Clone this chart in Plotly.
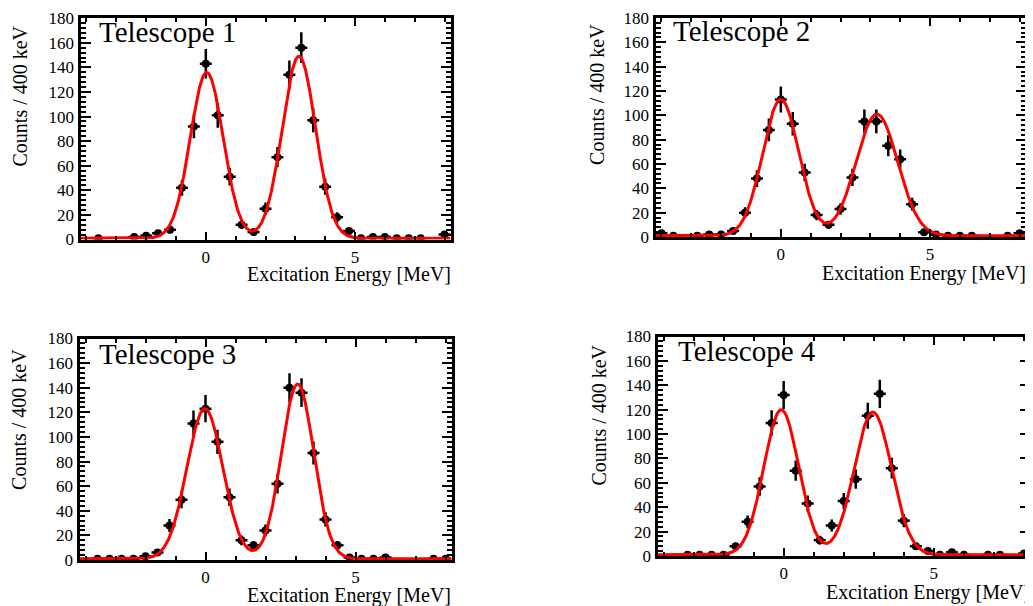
import numpy as np
import plotly.graph_objects as go

# ---------------- data ----------------
bin_centers = [-4.0, -3.6, -3.2, -2.8, -2.4, -2.0, -1.6, -1.2, -0.8, -0.4, 0.0,
               0.4, 0.8, 1.2, 1.6, 2.0, 2.4, 2.8, 3.2, 3.6, 4.0, 4.4, 4.8, 5.2,
               5.6, 6.0, 6.4, 6.8, 7.2, 7.6, 8.0]

counts_t1 = [None, 1, None, None, 2, 3, 5, 8, 42, 92, 143, 101, 51, 12, 6, 25, 67,
             134, 156, 97, 43, 18, 7, 1, 2, 2, 1, 1, 1, None, 4]
counts_t2 = [3, 1, None, 1, 2, 2, 5, 20, 48, 88, 113, 93, 53, 18, 10, 23, 49,
             95, 95, 75, 64, 27, 4, 2, 1, 1, 1, None, None, 1, 3]
counts_t3 = [None, 1, 1, 1, 1, 3, 6, 28, 49, 111, 123, 96, 51, 16, 12, 24, 62,
             140, 136, 87, 33, 12, 2, 1, 1, 2, None, None, None, 1, 1]
counts_t4 = [None, None, 1, 1, 1, 1, 8, 28, 57, 109, 132, 70, 43, 13, 25, 45, 63,
             115, 133, 72, 29, 8, 4, 1, 3, 1, None, 1, 1, None, 2]

# double-Gaussian fit parameters: [A1, mean1, sigma1, A2, mean2, sigma2, background]
fit_t1 = [135, 0.03, 0.55, 148, 3.12, 0.56, 1.0]
fit_t2 = [112, 0.00, 0.61, 100, 3.22, 0.70, 1.0]
fit_t3 = [122, -0.02, 0.60, 142, 3.07, 0.54, 1.0]
fit_t4 = [119, -0.08, 0.58, 117, 2.97, 0.62, 1.0]

panel_titles = ["Telescope 1", "Telescope 2", "Telescope 3", "Telescope 4"]
x_title = "Excitation Energy [MeV]"
y_title = "Counts / 400 keV"
x_range = [-4.2, 8.2]
y_range = [0, 180]
bin_half_width = 0.2

panels = [counts_t1, counts_t2, counts_t3, counts_t4]
fits = [fit_t1, fit_t2, fit_t3, fit_t4]

# ---------------- layout geometry (page pixels) ----------------
W, H = 1033, 606
OFF = 8  # default page body margin
# frame boxes: x0, x1, y0(top), y1(bottom)
frames = [
    (80.5, 450.5, 18.2, 239.5),
    (655.5, 1025.5, 18.0, 237.0),
    (79.5, 451.5, 338.5, 560.0),
    (657.5, 1030.0, 336.5, 556.0),
]
title_pos = [(97, 32.5), (670.7, 30.7), (96.7, 354), (676, 351)]
ytitle_pos = [(19.7, 23.3), (596.7, 21.7), (19.7, 346.7), (599.3, 342.7)]
xtitle_pos = [(453.3, 275), (1027.7, 273), (453.3, 595.5), (1031.7, 592.5)]


def fx(px):
    return (px - OFF) / W


def fy(py):
    return 1 - (py - OFF) / H


FONT = "Liberation Serif, Times New Roman, serif"

fig = go.Figure()
xcurve = np.linspace(x_range[0], x_range[1], 600)

annotations = []
for i, (cnts, p) in enumerate(zip(panels, fits)):
    sfx = "" if i == 0 else str(i + 1)
    xs = [x for x, c in zip(bin_centers, cnts) if c is not None]
    ys = [c for c in cnts if c is not None]
    errs = [float(np.sqrt(c)) for c in ys]
    fig.add_trace(go.Scatter(
        x=xs, y=ys, mode="markers",
        marker=dict(color="black", size=8),
        error_y=dict(type="data", array=errs, visible=True, color="black",
                     thickness=2.5, width=0),
        error_x=dict(type="constant", value=bin_half_width, visible=True,
                     color="black", thickness=2.5, width=0),
        xaxis="x" + sfx, yaxis="y" + sfx, showlegend=False,
    ))
    A1, m1, s1, A2, m2, s2, bg = p
    ycurve = (A1 * np.exp(-0.5 * ((xcurve - m1) / s1) ** 2)
              + A2 * np.exp(-0.5 * ((xcurve - m2) / s2) ** 2) + bg)
    fig.add_trace(go.Scatter(
        x=xcurve, y=ycurve, mode="lines",
        line=dict(color="#ff0000", width=3),
        xaxis="x" + sfx, yaxis="y" + sfx, showlegend=False,
    ))

    x0, x1, y0, y1 = frames[i]
    common = dict(showline=True, linecolor="black", linewidth=3,
                  mirror="allticks", ticks="inside", tickcolor="black",
                  tickwidth=2, showgrid=False, zeroline=False, automargin=False,
                  tickfont=dict(family=FONT, size=17, color="black"))
    fig.update_layout(**{
        "xaxis" + sfx: dict(domain=[fx(x0), fx(x1)], range=x_range,
                            anchor="y" + sfx, tick0=0, dtick=5, ticklen=8,
                            minor=dict(ticks="inside", dtick=1, ticklen=4,
                                       tickwidth=2, tickcolor="black"),
                            **common),
        "yaxis" + sfx: dict(domain=[fy(y1), fy(y0)], range=y_range,
                            anchor="x" + sfx, tick0=0, dtick=20, ticklen=10,
                            minor=dict(ticks="inside", dtick=4, ticklen=5,
                                       tickwidth=2, tickcolor="black"),
                            **common),
    })

    tx, ty = title_pos[i]
    annotations.append(dict(text=panel_titles[i], x=fx(tx), y=fy(ty),
                            xref="paper", yref="paper", xanchor="left",
                            yanchor="middle", showarrow=False,
                            font=dict(family=FONT, size=29, color="black")))
    yx, yy = ytitle_pos[i]
    annotations.append(dict(text=y_title, x=fx(yx), y=fy(yy),
                            xref="paper", yref="paper", xanchor="center",
                            yanchor="top", textangle=-90, showarrow=False,
                            font=dict(family=FONT, size=20, color="black")))
    xx, xy = xtitle_pos[i]
    annotations.append(dict(text=x_title, x=fx(xx), y=fy(xy),
                            xref="paper", yref="paper", xanchor="right",
                            yanchor="middle", showarrow=False,
                            font=dict(family=FONT, size=20, color="black")))

fig.update_layout(width=W, height=H,
                  margin=dict(l=0, r=0, t=0, b=0, autoexpand=False),
                  paper_bgcolor="white", plot_bgcolor="white",
                  annotations=annotations)

fig.write_html("out.html")
